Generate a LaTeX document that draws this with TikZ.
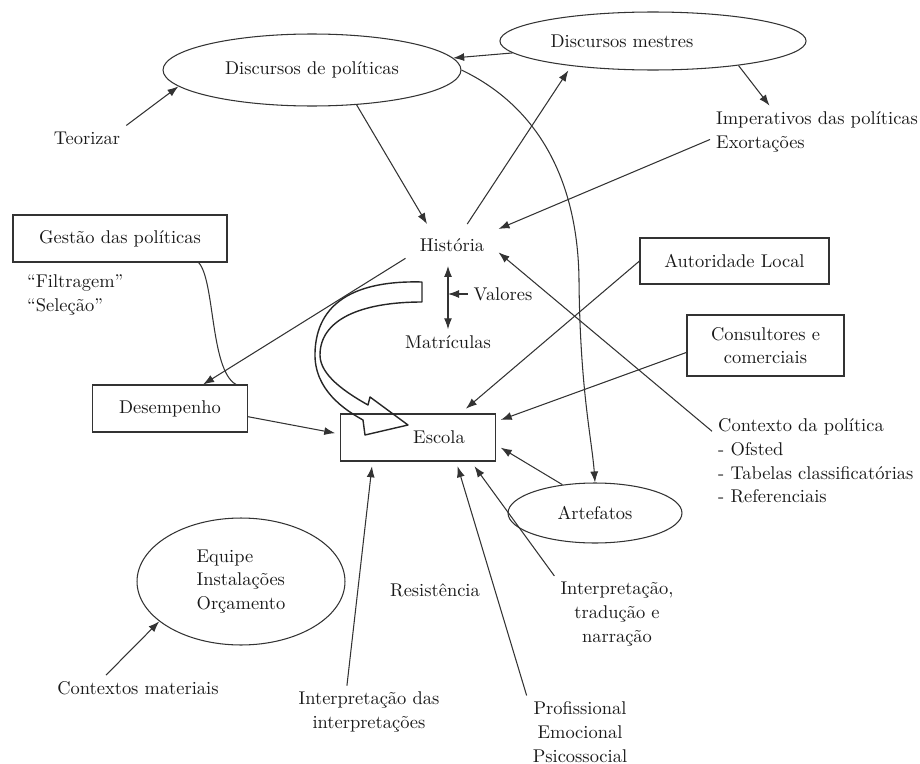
\documentclass[tikz,border=0pt]{standalone}
\usepackage{fontspec}
\usepackage[usenames, dvipsnames]{xcolor}
\usetikzlibrary{arrows.meta}
\usetikzlibrary{shapes.geometric}

\begin{document}
\begin{tikzpicture}[x=0.02cm,y=-0.02cm,
  >={Latex[length=2.2mm,width=1.6mm]},
  every node/.style={font=\fontsize{10.5}{13.5}\selectfont, text=black!90},
  caixa/.style={draw=black!80, rectangle, line width=0.6pt},
  elipse/.style={draw=black!80, ellipse, line width=0.6pt},
  seta/.style={draw=black!80, line width=0.6pt, ->},
  dupla/.style={draw=black!80, line width=0.6pt, <->},
  linha/.style={draw=black!80, line width=0.6pt}]
\useasboundingbox (0,0) rectangle (920,764);

\node[elipse, minimum width=5.96cm, minimum height=1.44cm] (politicas) at (312,70) {Discursos de políticas};
\node[elipse, minimum width=5.94cm, minimum height=1.16cm] (mestres) at (653,41) {Discursos mestres\hspace*{1.24cm}};
\node[elipse, minimum width=3.48cm, minimum height=1.2cm] (artefatos) at (595,513) {Artefatos};
\node[elipse, minimum width=4.16cm, minimum height=2.54cm, align=left] (equipe) at (241,581.5) {Equipe\\Instalações\\Orçamento};

\node[caixa, minimum width=4.28cm, minimum height=0.94cm] (gestao) at (120,238.5) {Gestão das políticas};
\node[caixa, minimum width=3.1cm, minimum height=0.94cm] (desempenho) at (170,408.5) {Desempenho};
\node[caixa, minimum width=3.1cm, minimum height=0.94cm, outer sep=3pt] (escola) at (418,437.5) {\hspace*{0.84cm}Escola};
\node[caixa, minimum width=3.78cm, minimum height=0.92cm] (autoridade) at (734.5,261) {Autoridade Local};
\node[caixa, minimum width=3.14cm, minimum height=1.22cm, align=center] (consultores) at (765.5,345.5) {Consultores e\\comerciais};

\node (teorizar) at (87,138) {Teorizar};
\node[anchor=west, align=left] (imperativos) at (710,132) {Imperativos das políticas\\Exortações};
\node[inner sep=8pt] (historia) at (452,245) {História};
\node (valores) at (503,294) {Valores};
\node (matriculas) at (448,342) {Matrículas};
\node[anchor=west, align=left] (filtragem) at (21,295) {“Filtragem”\\“Seleção”};
\node[anchor=west, align=left] (contexto) at (712,461) {Contexto da política\\- Ofsted\\- Tabelas classificatórias\\- Referenciais};
\node (resistencia) at (435,590) {Resistência};
\node[align=center] (interp) at (617,614) {Interpretação,\\tradução e\\narração};
\node[align=center] (prof) at (580,732) {Profissional\\Emocional\\Psicossocial};
\node (materiais) at (138,688) {Contextos materiais};
\node[align=center] (interp2) at (369,712) {Interpretação das\\interpretações};

\draw[seta] (mestres) -- (politicas);
\draw[seta] (teorizar.north east) -- (politicas.187);
\draw[seta] (politicas.-38) -- (historia.140);
\draw[seta, shorten >=3pt] (historia.54) -- (mestres.197);
\draw[seta] (mestres.-16) -- (imperativos.151);
\draw[seta] (imperativos.184) -- (historia.19);
\draw[seta] (politicas.east) .. controls (545,110) and (578,190) .. (579,280)
  .. controls (580,390) and (592,440) .. (artefatos.north);
\draw[linha] (gestao.-17) .. controls (215,280) and (210,370) .. (desempenho.20);
\draw[seta] (historia.196) -- (desempenho.36);
\draw[seta] (desempenho.-6) -- (escola.177);
\draw[dupla] (historia.south -| matriculas.north) -- (matriculas.north);
\draw[seta] (valores.west) -- (valores.west -| matriculas.north);
\draw[seta] (autoridade.west) -- (escola.31);
\draw[seta] (consultores.185) -- (escola.12);
\draw[seta] (contexto.164) -- (historia.-9);
\draw[seta] (artefatos.139) -- (escola.-7);
\draw[seta] (interp.north west) -- (escola.-27);
\draw[seta] (prof.north west) -- (escola.-36);
\draw[seta] (interp2.130) -- (escola.-148);
\draw[seta] (materiais.158) -- (equipe.206);

% seta larga curva
\draw[draw=black!85, line width=0.8pt, line join=round] (422,282)
  .. controls (345,280) and (316,310) .. (315,353)
  .. controls (314,390) and (345,410) .. (363,420)
  -- (365,435) -- (408,425) -- (370,397) -- (368,405)
  .. controls (345,392) and (320,375) .. (320,355)
  .. controls (320,320) and (360,302) .. (422,302) -- cycle;
\end{tikzpicture}
\end{document}
